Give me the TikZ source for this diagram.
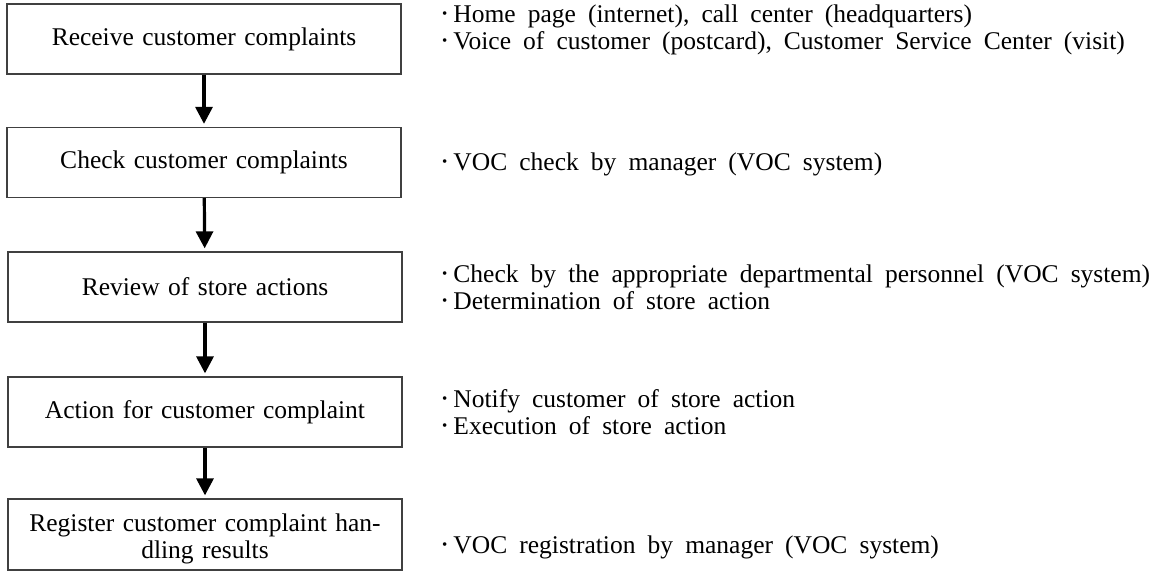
\documentclass[tikz,border=0pt]{standalone}
\usepackage{fontspec}
\setmainfont{Liberation Serif}[WordSpace={1.9}]
\usetikzlibrary{arrows.meta}
\newcommand\bul{{\fontsize{15}{15}\selectfont\raisebox{4pt}{•}}\hspace{6pt}}
\begin{document}
\begin{tikzpicture}[x=1pt,y=-1pt,
  stepbox/.style={draw=black!75, line width=1.3pt, minimum width=394pt, minimum height=70pt,
    align=center, inner sep=0pt, text width=386pt, font=\fontsize{25.5}{27}\selectfont},
  boxtext/.style={align=center, inner sep=0pt, text width=386pt, font=\fontsize{25.5}{27}\selectfont},
  desc/.style={anchor=west, align=left, inner sep=0pt, font=\fontsize{25.5}{27}\selectfont},
  flow/.style={-{Triangle[length=17pt,width=17pt]}, line width=3.2pt, shorten >=3pt}]
\useasboundingbox (0,0) rectangle (1151,571);
\node[stepbox] (b1) at (204,39) {Receive customer complaints};
\node[stepbox] (b2) at (204,162.5) {Check customer complaints};
\node[stepbox] (b3) at (205,287) {Review of store actions};
\node[stepbox] (b4) at (205,412) {Action for customer complaint};
\node[stepbox, minimum height=71pt] (b5) at (205,534.5) {};
\node[boxtext] (t5) at (205,539) {Register customer complaint han-\\dling results};
\draw[flow] (b1) -- (b2);
\draw[flow] (b2) -- (b3);
\draw[flow] (b3) -- (b4);
\draw[flow] (b4) -- (b5);
\node[desc] (d1) at (442,30) {\bul Home page (internet), call center (headquarters)\\\bul Voice of customer (postcard), Customer Service Center (visit)};
\node[desc] (d2) at (442,164) {\bul VOC check by manager (VOC system)};
\node[desc] (d3) at (442,287) {\bul Check by the appropriate departmental personnel (VOC system)\\\bul Determination of store action};
\node[desc] (d4) at (442,412) {\bul Notify customer of store action\\\bul Execution of store action};
\node[desc] (d5) at (442,547) {\bul VOC registration by manager (VOC system)};
\end{tikzpicture}
\end{document}
